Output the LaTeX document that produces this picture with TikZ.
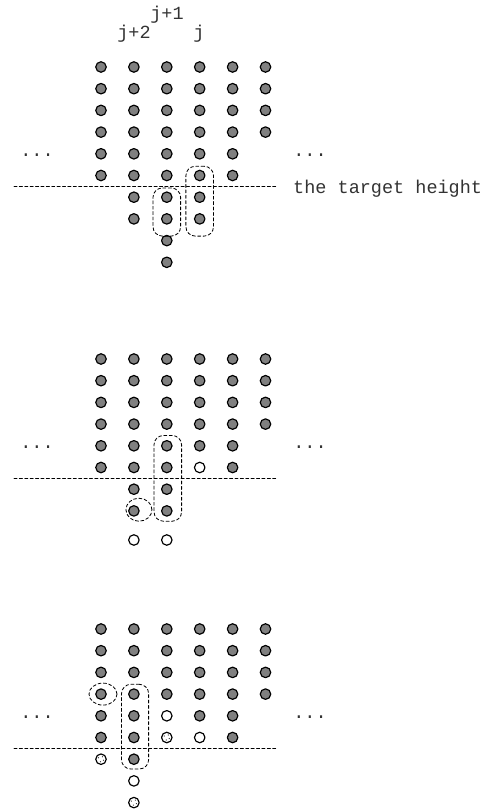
\documentclass[tikz,border=0pt]{standalone}
\usepackage{fontspec}
\newfontfamily\beadfont{Liberation Mono}
\usetikzlibrary{fit,shapes.geometric}

\begin{document}
\begin{tikzpicture}[x=0.03cm, y=-0.03cm, line cap=round, line join=round,
    bead/.style={circle, draw=black, fill=black!50, line width=1pt,
      minimum size=0.315cm, inner sep=0pt},
    hole/.style={bead, fill=white},
    spread/.style={hole, path picture={
        \foreach \dx/\dy in {-2.5/-1.5, 1.5/-2.5, -0.5/2.5, 2.5/1}
          \fill[black!85] ([shift={(\dx,\dy)}]path picture bounding box.center) circle (0.5pt);}},
    level/.style={line width=0.7pt, dash pattern=on 2.6pt off 2pt},
    fence/.style={draw, line width=0.7pt, dash pattern=on 2.6pt off 2pt,
      rounded corners=8pt, inner sep=0pt},
    ring/.style={draw, ellipse, line width=0.7pt, dash pattern=on 2.6pt off 2pt,
      inner sep=0pt},
    lab/.style={font=\beadfont\fontsize{15.8}{18}\selectfont, text=black!80, inner sep=0pt}]

\useasboundingbox (0,0) rectangle (493,811);

% Spalten
\node[lab, anchor=base] (jp1) at (167,20) {j+1};
\node[lab, anchor=base] (jp2) at (134,38) {j+2};
\node[lab, anchor=base] (j) at (199,38) {j};

% Stand 1
\foreach \c/\n in {0/5,1/5,2/5,3/5,4/5,5/3}
  \foreach \r in {0,...,\n}
    \node[bead] (a-\c-\r) at (101+32.9*\c, 67+21.7*\r) {};
\foreach \c/\n in {1/7,2/9,3/7}
  \foreach \r in {6,...,\n}
    \node[bead] (a-\c-\r) at (101+32.9*\c, 67+21.7*\r) {};

\coordinate (a-l) at (14,186);
\coordinate (a-r) at (277,186);
\draw[level] (a-l) -- (a-r);
\node[lab, anchor=base west] (a-tgt) at (293,193) {the target height};
\node[lab, anchor=base] (a-dl) at (37,156) {...};
\node[lab, anchor=base] (a-dr) at (310,156) {...};

\node[fence, fit=(a-3-5)(a-3-7), inner xsep=6.8pt, inner ysep=6.3pt, yshift=-3.4pt] (a-box1) {};
\node[fence, fit=(a-2-6)(a-2-7), inner xsep=6.8pt, inner ysep=6.3pt, yshift=-3.4pt] (a-box2) {};

% Stand 2
\begin{scope}[shift={(0,292)}]
\foreach \c/\n in {0/5,1/5,2/5,3/4,4/5,5/3}
  \foreach \r in {0,...,\n}
    \node[bead] (b-\c-\r) at (101+32.9*\c, 67+21.7*\r) {};
\node[hole] (b-3-5) at (101+32.9*3, 67+21.7*5) {};
\foreach \c in {1,2}
  \foreach \r in {6,7}
    \node[bead] (b-\c-\r) at (101+32.9*\c, 67+21.7*\r) {};
\node[hole] (b-1-8) at (101+32.9*1, 248) {};
\node[hole] (b-2-8) at (101+32.9*2, 248) {};

\coordinate (b-l) at (14,186);
\coordinate (b-r) at (277,186);
\draw[level] (b-l) -- (b-r);
\node[lab, anchor=base] (b-dl) at (37,156) {...};
\node[lab, anchor=base] (b-dr) at (310,156) {...};

\node[fence, fit=(b-2-4)(b-2-7), inner xsep=6.8pt, inner ysep=3.8pt, xshift=0.85pt] (b-box) {};
\node[ring, minimum width=0.78cm, minimum height=0.69cm] (b-ring) at ([xshift=4.3pt, yshift=1pt]b-1-7) {};
\end{scope}

% Stand 3
\begin{scope}[shift={(0,562)}]
\foreach \c/\n in {0/5,1/5,2/3,3/4,4/5,5/3}
  \foreach \r in {0,...,\n}
    \node[bead] (c-\c-\r) at (101+32.9*\c, 67+21.7*\r) {};
\node[hole] (c-2-4) at (101+32.9*2, 67+21.7*4) {};
\node[spread] (c-2-5) at (101+32.9*2, 67+21.7*5) {};
\node[hole] (c-3-5) at (101+32.9*3, 67+21.7*5) {};
\node[spread] (c-0-6) at (101, 67+21.7*6) {};
\node[bead] (c-1-6) at (101+32.9, 67+21.7*6) {};
\node[hole] (c-1-7) at (101+32.9, 67+21.7*7) {};
\node[spread] (c-1-8) at (101+32.9, 67+21.7*8) {};

\coordinate (c-l) at (14,186);
\coordinate (c-r) at (277,186);
\draw[level] (c-l) -- (c-r);
\node[lab, anchor=base] (c-dl) at (37,156) {...};
\node[lab, anchor=base] (c-dr) at (310,156) {...};

\node[ring, minimum width=0.84cm, minimum height=0.66cm] (c-ring) at ([xshift=1.7pt]c-0-3) {};
\node[fence, fit=(c-1-3)(c-1-6), inner xsep=6.6pt, inner ysep=3.4pt, xshift=1pt] (c-box) {};
\end{scope}

\end{tikzpicture}
\end{document}
